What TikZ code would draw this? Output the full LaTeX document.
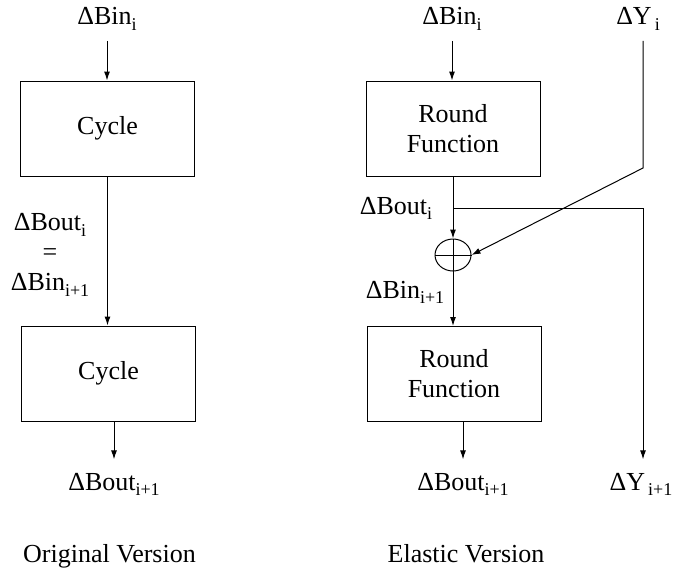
\documentclass[tikz,border=0pt]{standalone}
\usepackage{fontspec}
\setmainfont{Liberation Serif}
\usetikzlibrary{arrows.meta,shapes.geometric}

\newcommand{\idx}[1]{\raisebox{-0.45ex}{\fontsize{9}{9}\selectfont #1}}

\begin{document}
\begin{tikzpicture}[x=0.5pt,y=-0.5pt,line width=0.5pt,
        txt/.style={font=\fontsize{13}{15}\selectfont},
        lbl/.style={txt, inner sep=3pt},
        blk/.style={txt, draw, align=center, minimum width=87pt, minimum height=47.5pt},
        arr/.style={-{Latex[length=4.5pt,width=3pt]}}]
        \useasboundingbox (0,0) rectangle (673,573);

        % Original Version
        \node[lbl, anchor=base] (binL)  at (107,25)  {ΔBin\idx{i}};
        \node[blk]              (cycA)  at (107.5,128.5) {Cycle};
        \node[blk]              (cycB)  at (108.5,373.5) {Cycle};
        \node[lbl, align=center] (eqL)  at (50,255)  {ΔBout\idx{i}\\=\\ΔBin\idx{i+1}};
        \node[lbl, anchor=base] (boutL) at (114,490) {ΔBout\idx{i+1}};
        \node[lbl, anchor=base] (capL)  at (109.5,562) {Original Version};

        \draw[arr, shorten <=2pt] (binL) -- (binL |- cycA.north);
        \draw[arr] (cycA.south) -- (cycA.south |- cycB.north);
        \draw[arr, shorten >=3.5pt] (boutL |- cycB.south) -- (boutL.north);

        % Elastic Version
        \node[lbl, anchor=base] (binR)  at (452,25)  {ΔBin\idx{i}};
        \node[lbl, anchor=base] (yinR)  at (638,25)  {ΔY\kern1.5pt\idx{i}};
        \node[blk]              (rndA)  at (453,128.5) {Round\\Function};
        \node[draw, ellipse, minimum width=18pt, minimum height=16pt, inner sep=0pt] (xorR) at (453,255) {};
        \node[blk]              (rndB)  at (454,374) {Round\\Function};
        \node[lbl, anchor=base] (boutI) at (396,214) {ΔBout\idx{i}};
        \node[lbl, anchor=base] (binN)  at (405,298) {ΔBin\idx{i+1}};
        \node[lbl, anchor=base] (boutR) at (463,490) {ΔBout\idx{i+1}};
        \node[lbl, anchor=base] (youtR) at (641,490) {ΔY\kern1.5pt\idx{i+1}};
        \node[lbl, anchor=base] (capR)  at (466,562) {Elastic Version};

        \coordinate (tap)  at (453,208);
        \coordinate (tapR) at (643,208);
        \coordinate (ybnd) at (643,168);

        % XOR
        \draw (xorR.north) -- (xorR.south);
        \draw (xorR.west) -- (xorR.east);

        \draw[arr, shorten <=2pt] (binR) -- (binR |- rndA.north);
        \draw[arr] (rndA.south -| xorR) -- (xorR.north);
        \draw[arr] (xorR.south) -- (xorR.south |- rndB.north);
        \draw[arr, shorten >=3.5pt] (boutR |- rndB.south) -- (boutR.north);
        \draw[arr, shorten >=3.5pt] (tap) -- (tapR) -- (tapR |- youtR.north);
        \draw[arr, shorten <=2pt] (ybnd |- yinR.south) -- (ybnd) -- (xorR.east);
\end{tikzpicture}
\end{document}
